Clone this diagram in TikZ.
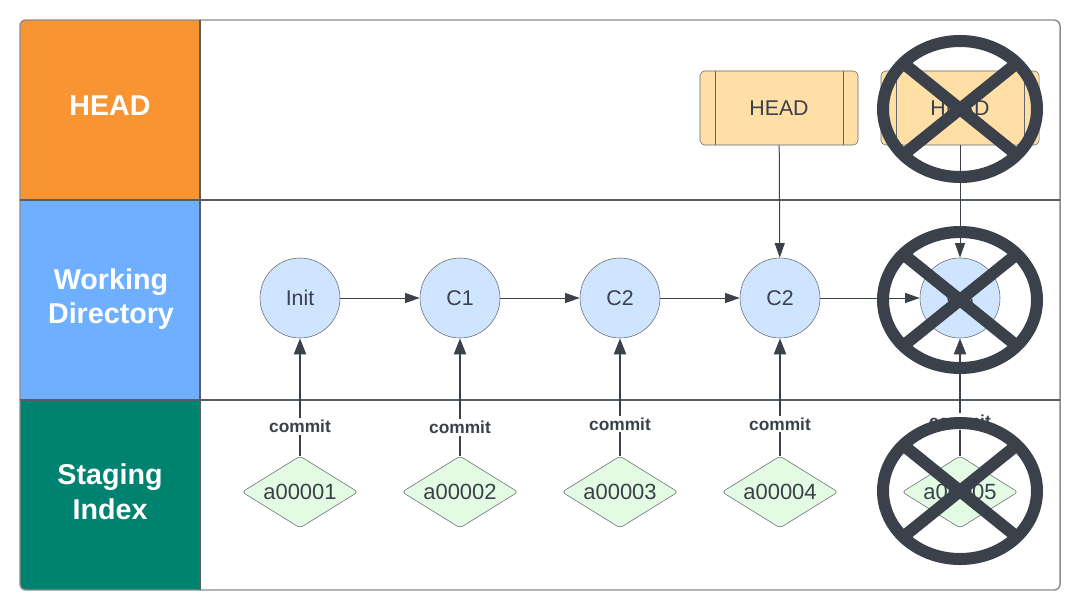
\documentclass[tikz,border=0pt]{standalone}
\usepackage{fontspec}
\setmainfont{Liberation Sans}
\usetikzlibrary{shapes.geometric,arrows.meta}

\definecolor{headorange}{HTML}{F99432}
\definecolor{wdblue}{HTML}{6EB0FF}
\definecolor{stageteal}{HTML}{008270}
\definecolor{commitfill}{HTML}{CFE4FF}
\definecolor{indexfill}{HTML}{E3FAE3}
\definecolor{headfill}{HTML}{FFDFA6}
\definecolor{ink}{HTML}{3A414A}
\definecolor{framegray}{HTML}{8A8C90}

\begin{document}
\begin{tikzpicture}[x=0.75pt,y=-0.75pt,
  lane/.style = {text=white,align=center,font=\fontsize{21.5}{26}\selectfont\bfseries},
  commitnode/.style = {circle,draw=ink!80,fill=commitfill,minimum size=60pt,inner sep=0pt,text=ink,font=\fontsize{16}{19}\selectfont},
  indexnode/.style = {diamond,aspect=1.6,draw=ink!80,fill=indexfill,minimum width=87pt,minimum height=54pt,inner sep=0pt,rounded corners=2.5pt,text=ink,font=\fontsize{16.5}{19}\selectfont},
  headbox/.style = {rectangle,draw=ink!80,fill=headfill,minimum width=118.5pt,minimum height=55.5pt,rounded corners=3.5pt,text=ink,font=\fontsize{16}{19}\selectfont},
  cmtlabel/.style = {fill=white,inner sep=1.5pt,text=ink,font=\fontsize{13}{15}\selectfont\bfseries},
  thinarrow/.style = {draw=ink,line width=0.75pt,-{Triangle[length=11pt,width=7.5pt]}},
  thickarrow/.style = {draw=ink,line width=1.5pt,-{Triangle[length=12pt,width=9pt]}},
  crossmark/.style = {draw=ink,line width=9pt}]
\useasboundingbox (0,0) rectangle (1080,610);

% frame and lanes
\fill[white,rounded corners=4.5pt] (20,20) rectangle (1060,590);
\begin{scope}
\clip[rounded corners=4.5pt] (20,20) rectangle (1060,590);
\fill[headorange] (20,20) rectangle (200,200);
\fill[wdblue] (20,200) rectangle (200,400);
\fill[stageteal] (20,400) rectangle (200,590);
\end{scope}
\draw[framegray,line width=1.1pt,rounded corners=4.5pt] (20,20) rectangle (1060,590);
\draw[ink!85,line width=0.9pt] (20,200) -- (1060,200);
\draw[ink!85,line width=0.9pt] (20,400) -- (1060,400);
\draw[ink!85,line width=0.9pt] (200,20) -- (200,590);

\node[lane] (lhead) at (110,106) {HEAD};
\node[lane] (lwork) at (111,299) {Working\\Directory};
\node[lane] (lstage) at (110,492) {Staging\\Index};

% HEAD pointers
\node[headbox] (hd1) at (779,108) {HEAD};
\node[headbox] (hd2) at (960,108) {HEAD};
\draw[ink!80] ([xshift=12pt]hd1.north west) -- ([xshift=12pt]hd1.south west);
\draw[ink!80] ([xshift=-11.5pt]hd1.north east) -- ([xshift=-11.5pt]hd1.south east);
\draw[ink!80] ([xshift=12pt]hd2.north west) -- ([xshift=12pt]hd2.south west);
\draw[ink!80] ([xshift=-11.5pt]hd2.north east) -- ([xshift=-11.5pt]hd2.south east);

% commits
\node[commitnode] (init) at (300,298) {Init};
\node[commitnode] (c1) at (460,298) {C1};
\node[commitnode] (c2a) at (620,298) {C2};
\node[commitnode] (c2b) at (780,298) {C2};
\node[commitnode] (c3) at (960,298) {C3};

% staging index
\node[indexnode] (s1) at (300,492) {a00001};
\node[indexnode] (s2) at (460,492) {a00002};
\node[indexnode] (s3) at (620,492) {a00003};
\node[indexnode] (s4) at (780,492) {a00004};
\node[indexnode] (s5) at (960,492) {a00005};

\draw[thinarrow] (init) -- (c1);
\draw[thinarrow] (c1) -- (c2a);
\draw[thinarrow] (c2a) -- (c2b);
\draw[thinarrow] (c2b) -- (c3);

\draw[thickarrow] (s1) -- node[cmtlabel,pos=0.25] {commit} (init);
\draw[thickarrow] (s2) -- node[cmtlabel,pos=0.24] {commit} (c1);
\draw[thickarrow] (s3) -- node[cmtlabel,pos=0.27] {commit} (c2a);
\draw[thickarrow] (s4) -- node[cmtlabel,pos=0.27] {commit} (c2b);
\draw[thickarrow] (s5) -- node[cmtlabel,pos=0.29] {commit} (c3);

\draw[thinarrow] (hd1) -- (c2b);
\draw[thinarrow] (hd2) -- (c3);

% crossed out
\draw[crossmark] (960,109) ellipse [x radius=57.75pt,y radius=51pt];
\draw[crossmark] (903,63) -- (1017,155);
\draw[crossmark] (903,155) -- (1017,63);
\draw[crossmark] (960,300) ellipse [x radius=57.75pt,y radius=51pt];
\draw[crossmark] (903,254) -- (1017,346);
\draw[crossmark] (903,346) -- (1017,254);
\draw[crossmark] (960,491) ellipse [x radius=57.75pt,y radius=51pt];
\draw[crossmark] (903,445) -- (1017,537);
\draw[crossmark] (903,537) -- (1017,445);
\end{tikzpicture}
\end{document}
